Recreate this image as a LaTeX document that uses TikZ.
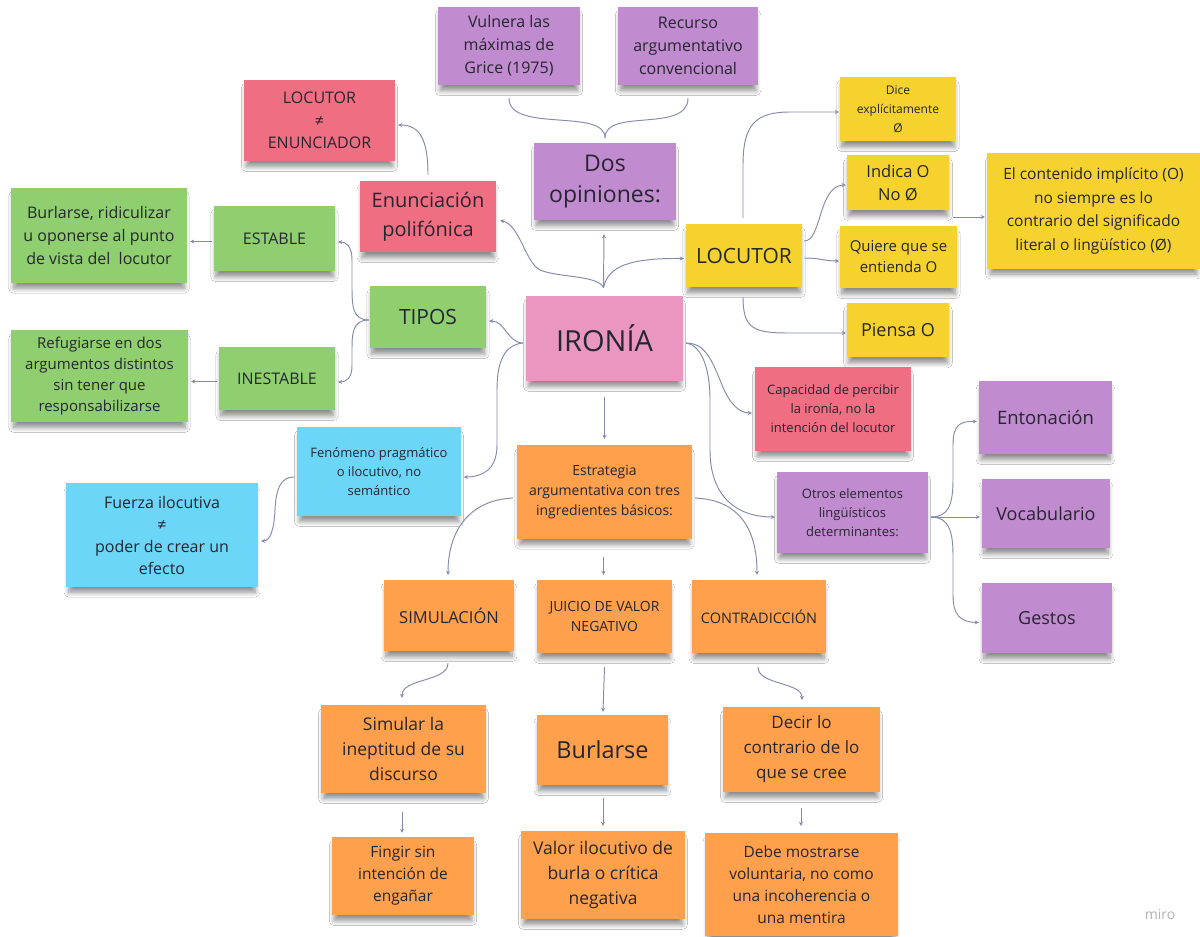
\documentclass[tikz,border=0pt]{standalone}
\usepackage{fontspec}
\setmainfont{Open Sans}
\usetikzlibrary{arrows.meta,calc,shadows.blur}
\definecolor{ink}{RGB}{38,38,48}
\definecolor{lc}{RGB}{132,138,172}
\definecolor{cpur}{RGB}{192,139,207}
\definecolor{cred}{RGB}{240,110,130}
\definecolor{cgrn}{RGB}{144,207,112}
\definecolor{cpnk}{RGB}{233,150,192}
\definecolor{cyel}{RGB}{245,210,45}
\definecolor{cblu}{RGB}{108,214,248}
\definecolor{corg}{RGB}{255,160,76}
\newcommand\fsz[2]{\fontsize{#1}{#2}\selectfont}
\tikzset{
  note/.style={rectangle, inner sep=2pt, align=center, text=ink,
    blur shadow={shadow xshift=0pt, shadow yshift=-7pt, shadow blur radius=5pt, shadow blur steps=8, shadow opacity=45, shadow scale=0.97}},
  conn/.style={draw=lc, line width=0.95pt},
  arr/.style={conn, -{Stealth[length=4pt,width=4pt]}},
}
\begin{document}
\begin{tikzpicture}[x=1pt,y=-1pt]
\useasboundingbox[fill=white] (0,0) rectangle (1200,937);
% ---- nodes
\node[note, fill=cpur, minimum width=142, minimum height=78, font=\fsz{16}{23}] (vul) at (509,46) {Vulnera las\\máximas de\\Grice (1975)};
\node[note, fill=cpur, minimum width=140, minimum height=78, font=\fsz{16}{23}] (rec) at (688,46) {Recurso\\argumentativo\\convencional};
\node[note, fill=cpur, minimum width=142, minimum height=77, font=\fsz{23}{31}] (dos) at (605,181.5) {Dos\\opiniones:};
\node[note, fill=cred, minimum width=151, minimum height=81, font=\fsz{16}{22.5}] (lne) at (319.5,120.5) {LOCUTOR\\≠\\ENUNCIADOR};
\node[note, fill=cred, minimum width=136, minimum height=71, font=\fsz{20}{29}] (enu) at (428,216.5) {Enunciación\\polifónica};
\node[note, fill=cgrn, minimum width=176, minimum height=95, font=\fsz{16}{23}] (bur1) at (99,235.5) {Burlarse, ridiculizar\\u oponerse al punto\\de vista del\ \ locutor};
\node[note, fill=cgrn, minimum width=121, minimum height=65, font=\fsz{16}{22}] (est) at (274.5,238.5) {ESTABLE};
\node[note, fill=cgrn, minimum width=116, minimum height=62, font=\fsz{21}{26}] (tip) at (428,317) {TIPOS};
\node[note, fill=cgrn, minimum width=177, minimum height=92, font=\fsz{15}{21}] (ref) at (99.5,376) {Refugiarse en dos\\argumentos distintos\\sin tener que\\responsabilizarse};
\node[note, fill=cgrn, minimum width=116, minimum height=63, font=\fsz{16}{22}] (ine) at (277,378.5) {INESTABLE};
\node[note, fill=cpnk, minimum width=157, minimum height=85, font=\fsz{29}{34}] (iro) at (604.5,338.5) {IRONÍA};
\node[note, fill=cyel, minimum width=116, minimum height=63, font=\fsz{21}{26}] (loc) at (744,255.5) {LOCUTOR};
\node[note, fill=cyel, minimum width=116, minimum height=64, font=\fsz{12}{19}] (dice) at (898,109) {Dice\\explícitamente\\Ø};
\node[note, fill=cyel, minimum width=102, minimum height=55, font=\fsz{16.5}{23}] (ind) at (898,182.5) {Indica O\\No Ø};
\node[note, fill=cyel, minimum width=117, minimum height=62, font=\fsz{15}{21}] (qui) at (898.5,257) {Quiere que se\\entienda O};
\node[note, fill=cyel, minimum width=102, minimum height=54, font=\fsz{18}{23}] (pie) at (898,330) {Piensa O};
\node[note, fill=cyel, minimum width=213, minimum height=116, font=\fsz{15.5}{23.5}] (cont) at (1093.5,211) {El contenido implícito (O)\\no siempre es lo\\contrario del significado\\literal o lingüístico (Ø)};
\node[note, fill=cred, minimum width=156, minimum height=84, font=\fsz{13}{19}] (cap) at (833,409) {Capacidad de percibir\\la ironía, no la\\intención del locutor};
\node[note, fill=cpur, minimum width=133, minimum height=73, font=\fsz{18.5}{23}] (ent) at (1045.5,417.5) {Entonación};
\node[note, fill=cpur, minimum width=128, minimum height=69, font=\fsz{18}{23}] (voc) at (1046,513.5) {Vocabulario};
\node[note, fill=cpur, minimum width=130, minimum height=70, font=\fsz{18}{23}] (ges) at (1047,618) {Gestos};
\node[note, fill=cpur, minimum width=151, minimum height=81, font=\fsz{13}{19}] (otr) at (852.5,512.5) {Otros elementos\\lingüísticos\\determinantes:};
\node[note, fill=cblu, minimum width=164, minimum height=89, font=\fsz{13}{19}] (fen) at (379,471.5) {Fenómeno pragmático\\o ilocutivo, no\\semántico};
\node[note, fill=cblu, minimum width=192, minimum height=104, font=\fsz{16}{22}] (fue) at (162,535) {Fuerza ilocutiva\\≠\\poder de crear un\\efecto};
\node[note, fill=corg, minimum width=175, minimum height=94, font=\fsz{14}{20}] (estr) at (604.5,492) {Estrategia\\argumentativa con tres\\ingredientes básicos:};
\node[note, fill=corg, minimum width=130, minimum height=71, font=\fsz{16.5}{22}] (sim) at (449,615.5) {SIMULACIÓN};
\node[note, fill=corg, minimum width=135, minimum height=73, font=\fsz{14}{20}] (jui) at (604.5,616.5) {JUICIO DE VALOR\\NEGATIVO};
\node[note, fill=corg, minimum width=134, minimum height=73, font=\fsz{14.5}{20}] (con) at (759,616.5) {CONTRADICCIÓN};
\node[note, fill=corg, minimum width=165, minimum height=88, font=\fsz{17.5}{25}] (sml) at (403.5,749) {Simular la\\ineptitud de su\\discurso};
\node[note, fill=corg, minimum width=131, minimum height=70, font=\fsz{23.5}{28}] (bur2) at (602.5,750) {Burlarse};
\node[note, fill=corg, minimum width=157, minimum height=85, font=\fsz{17}{25}] (dec) at (801.5,749.5) {Decir lo\\contrario de lo\\que se cree};
\node[note, fill=corg, minimum width=142, minimum height=78, font=\fsz{15.5}{22}] (fin) at (403,876) {Fingir sin\\intención de\\engañar};
\node[note, fill=corg, minimum width=164, minimum height=88, font=\fsz{17.5}{25}] (val) at (603,875) {Valor ilocutivo de\\burla o crítica\\negativa};
\node[note, fill=corg, minimum width=193, minimum height=103, font=\fsz{15.5}{22}] (deb) at (801.5,884.5) {Debe mostrarse\\voluntaria, no como\\una incoherencia o\\una mentira};
\node[text=black!30, font=\fsz{14}{16}] (miro) at (1160,914) {miro};
\coordinate (contsrc) at (953,217);
% ---- connectors
\draw[conn] ($(dos.north)+(0,-5)$) .. controls +(0,-30) and +(0,35) .. ($(vul.south)+(0,13)$);
\draw[conn] ($(dos.north)+(0,-5)$) .. controls +(0,-30) and +(0,35) .. ($(rec.south)+(0,13)$);
\draw[arr] ($(iro.north)+(-1,-8)$) -- ($(dos.south)+(-1,14)$);
\draw[arr] ($(iro.north)+(-1,-8)$) .. controls (598,275) and (560,278) .. (540,270) .. controls (525,262) and (520,225) .. ($(enu.east)+(4,4)$);
\draw[arr] ($(iro.north)+(-1,-8)$) .. controls (608,266) and (630,258) .. ($(loc.west)+(-2,3)$);
\draw[arr] ($(enu.north)+(0,-6)$) .. controls (428,140) and (420,125) .. ($(lne.east)+(3,4.5)$);
\draw[arr] ($(iro.west)+(-3,4.5)$) .. controls (508,343) and (505,321) .. ($(tip.east)+(3,4)$);
\draw[arr] ($(iro.west)+(-3,4.5)$) .. controls (505,345) and (497,360) .. (497,390) -- (497,445) .. controls (497,470) and (482,477) .. ($(fen.west)+(167,5.5)$);
\draw[arr] ($(tip.west)+(-1,3)$) .. controls (352,320) and (352,305) .. (352,285) -- (352,260) .. controls (352,246) and (346,242) .. ($(est.east)+(3,3.5)$);
\draw[arr] ($(tip.west)+(-1,3)$) .. controls (352,320) and (352,335) .. (352,350) -- (352,366) .. controls (352,378) and (346,382) .. ($(ine.east)+(3,3.5)$);
\draw[arr] ($(est.west)+(-2,3)$) -- ($(bur1.east)+(3,6)$);
\draw[arr] ($(ine.west)+(-2,3)$) -- ($(ref.east)+(3,5.5)$);
\draw[arr] ($(loc.north)+(-1,-6)$) -- (743,165) .. controls (743,125) and (755,112) .. (790,112) -- ($(dice.west)+(-1,3)$);
\draw[arr] ($(loc.east)+(2,-14.5)$) .. controls (822,241) and (818,186) .. ($(ind.west)+(-1,2.5)$);
\draw[arr] ($(loc.east)+(2,2.5)$) .. controls (820,258) and (825,261) .. ($(qui.west)+(-1,4)$);
\draw[arr] ($(loc.south)+(-1,10)$) .. controls (743,330) and (755,333) .. (790,333) -- ($(pie.west)+(-1,3)$);
\draw[arr] (contsrc) -- ($(cont.west)+(-2,6)$);
\draw[arr] ($(iro.east)+(3,4.5)$) .. controls (705,343) and (712,360) .. (722,385) .. controls (730,405) and (740,413) .. ($(cap.west)+(-3,4)$);
\draw[arr] ($(iro.east)+(3,4.5)$) .. controls (700,345) and (710,365) .. (710,400) -- (710,450) .. controls (710,495) and (735,517) .. ($(otr.west)+(-2,4.5)$);
\draw[arr] ($(iro.south)+(0,16)$) -- ($(estr.north)+(0,-6)$);
\draw[arr] ($(fen.west)+(-3,5.5)$) .. controls (280,477) and (276,490) .. (275,510) .. controls (274,530) and (270,541) .. ($(fue.east)+(3,6)$);
\draw[arr] ($(estr.west)+(-4,6)$) .. controls (470,500) and (448,530) .. ($(sim.north)+(-1,-5)$);
\draw[arr] ($(estr.south)+(-1,18)$) -- ($(jui.north)+(-1,-5)$);
\draw[arr] ($(estr.east)+(3,6)$) .. controls (740,500) and (757,530) .. ($(con.north)+(-2,-5)$);
\draw[arr] ($(otr.east)+(3,4.5)$) .. controls (948,517) and (953,505) .. (953,480) -- (953,445) .. controls (953,425) and (960,421) .. ($(ent.west)+(-2,4)$);
\draw[arr] ($(otr.east)+(3,4.5)$) -- ($(voc.west)+(-2,3.5)$);
\draw[arr] ($(otr.east)+(3,4.5)$) .. controls (948,517) and (953,530) .. (953,555) -- (953,595) .. controls (953,615) and (960,622) .. ($(ges.west)+(-3,4.5)$);
\draw[arr] ($(sim.south)+(-1,12)$) .. controls (448,682) and (402,678) .. ($(sml.north)+(-1.5,-7)$);
\draw[arr] ($(jui.south)+(0,14)$) -- ($(bur2.north)+(0.5,-3)$);
\draw[arr] ($(con.south)+(-1,14)$) .. controls (758,685) and (802,682) .. ($(dec.north)+(0.5,-7)$);
\draw[arr] ($(sml.south)+(-1.5,19)$) -- ($(fin.north)+(-1,-4)$);
\draw[arr] ($(bur2.south)+(0.5,13)$) -- ($(val.north)+(0,-5)$);
\draw[arr] ($(dec.south)+(-0.5,16)$) -- ($(deb.north)+(-0.5,-7)$);
\end{tikzpicture}
\end{document}
